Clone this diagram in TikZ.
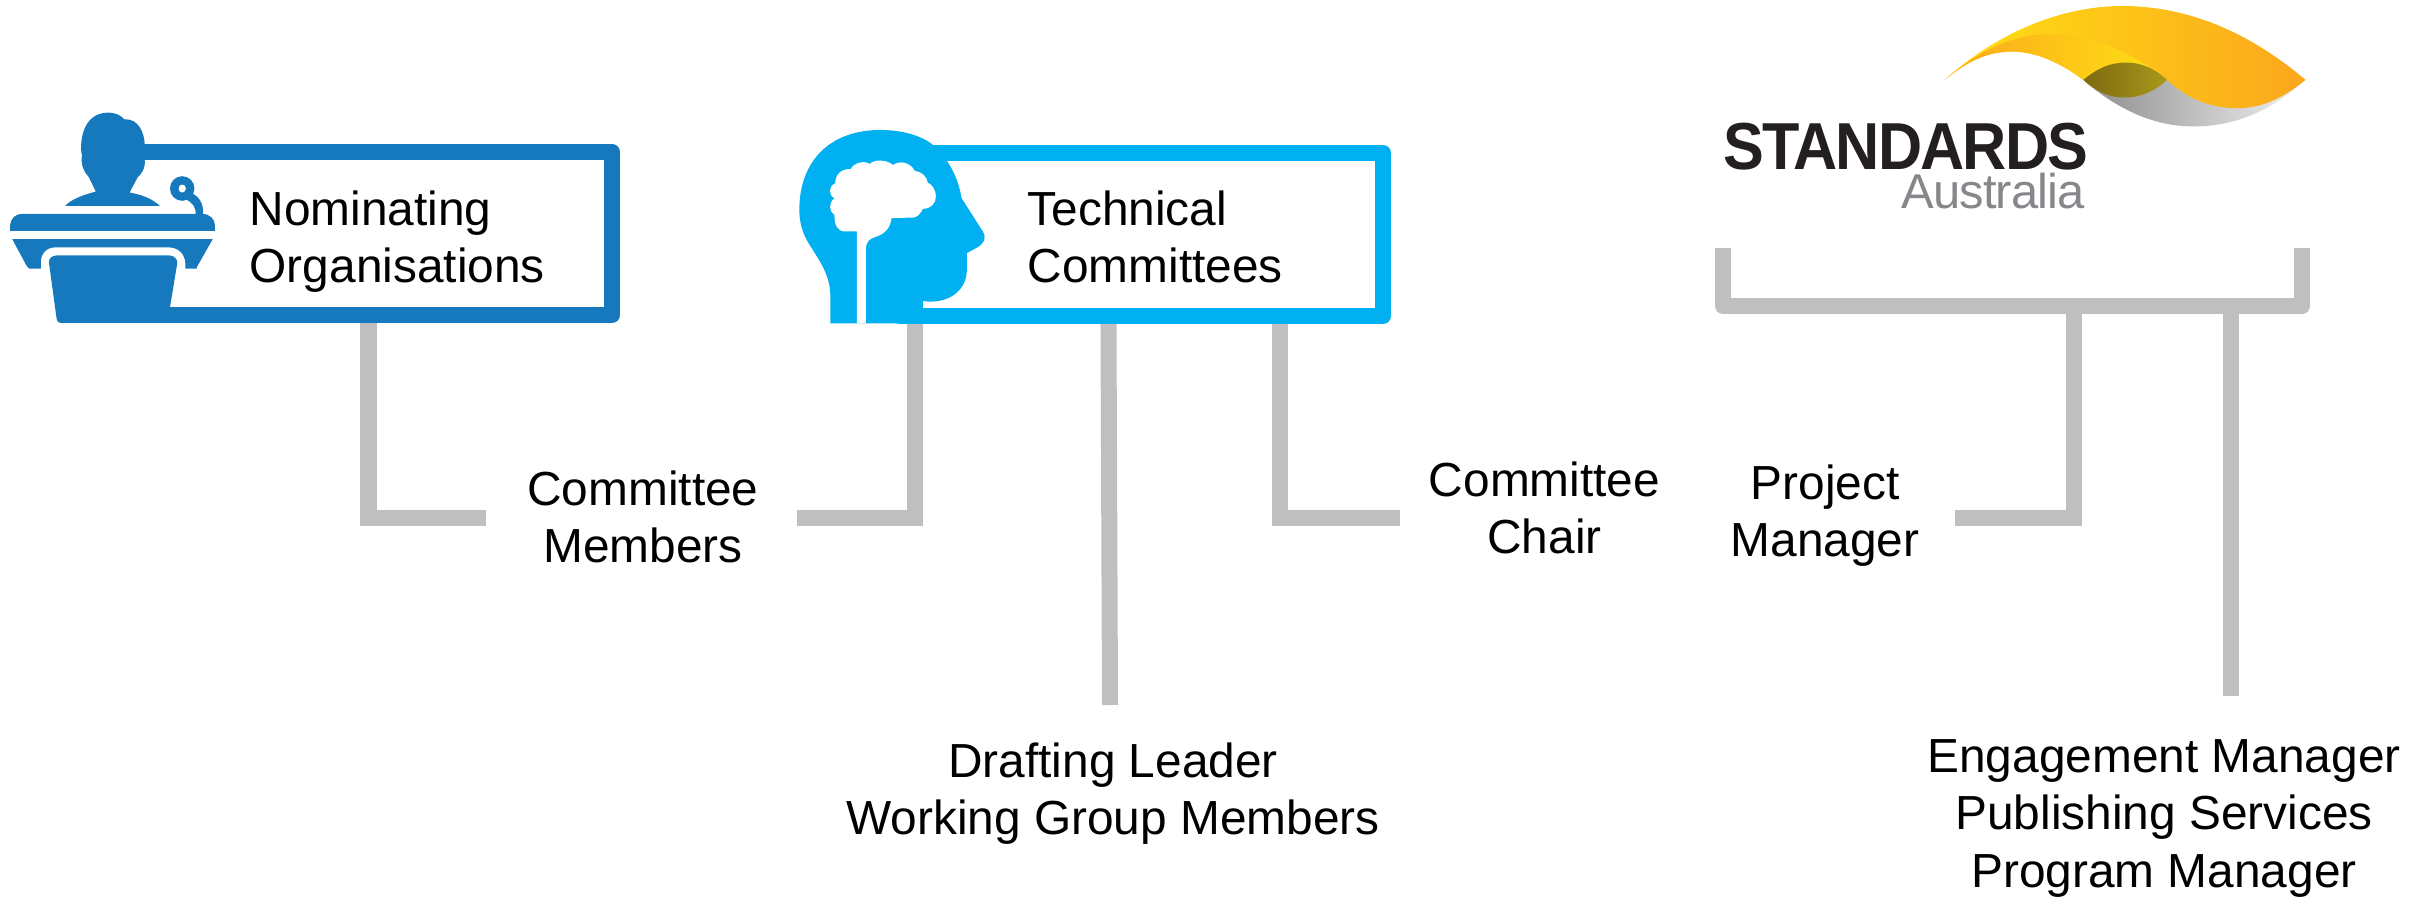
\documentclass[tikz,border=0pt]{standalone}
\usepackage{fontspec}
\setmainfont{Liberation Sans}
\newfontfamily\logofont[LetterSpace=-3]{Liberation Sans}
\newfontfamily\subfont[LetterSpace=-2]{Liberation Sans}
\definecolor{nomblue}{HTML}{1679BE}
\definecolor{techblue}{HTML}{00B0F0}
\definecolor{linkgray}{HTML}{BFBFBF}
\definecolor{logoyellow}{HTML}{FFE014}
\definecolor{logoorange}{HTML}{FBA71C}
\definecolor{logodark}{HTML}{231F20}
\definecolor{logogray}{HTML}{85878A}
\definecolor{lensleft}{HTML}{7E6A10}
\definecolor{lensright}{HTML}{A8981A}
\tikzset{
  label text/.style={align=center,inner sep=0pt,font=\fontsize{13.6}{16.3}\selectfont,
    execute at begin node=\strut,execute at end node=\strut},
  frame/.style={draw=#1,line width=0.16cm,line join=round,inner sep=0pt,minimum height=1.63cm},
  link/.style={draw=linkgray,line width=0.16cm},
  icon/.style={x=0.00408cm,y=-0.00333cm}
}
\begin{document}
\begin{tikzpicture}[x=0.01cm,y=-0.01cm]
  \useasboundingbox (0,0) rectangle (2430,897);

  % free ends of the connectors
  \coordinate (memleft) at (486,517.5);
  \coordinate (memright) at (796.5,517.5);
  \coordinate (chairend) at (1400,518);
  \coordinate (leadend) at (1110,705);
  \coordinate (pmend) at (1955,518);
  \coordinate (pubend) at (2231,696);
  \coordinate (brackL) at (1723,248);
  \coordinate (brackR) at (2302,248);
  \coordinate (brackP) at (2074,306);
  \coordinate (brackE) at (2231,306);

  % frames and connectors
  \node[frame=nomblue,minimum width=4.87cm] (nomorg) at (368.5,233.5) {};
  \node[frame=techblue,minimum width=4.83cm] (techcom) at (1141.5,234.5) {};
  \fill[white] (110,160) rectangle (140,307);
  \draw[link] (memleft) -| (nomorg.south);
  \draw[link] (memright) -| ([xshift=-2.265cm]techcom.south);
  \draw[link] ([xshift=-0.33cm]techcom.south) -- (leadend);
  \draw[link] (chairend) -| ([xshift=1.385cm]techcom.south);
  \draw[link,line join=round] (brackL) |- (brackR |- brackP) -- (brackR);
  \draw[link] (pmend) -| (brackP);
  \draw[link] (brackE) -- (pubend);

  % lectern
  \begin{scope}[shift={(0,90)},icon]
    \fill[nomblue] (235,305) -- (218,262) .. controls (205,245) and (198,225) .. (201,195)
      .. controls (195,170) and (198,68) .. (265,68) .. controls (285,68) and (298,78) .. (305,88)
      .. controls (340,85) and (355,130) .. (355,165) -- (355,210)
      .. controls (358,235) and (345,255) .. (338,262) -- (318,308)
      .. controls (350,315) and (375,328) .. (392,348) -- (160,348)
      .. controls (175,328) and (205,315) .. (235,305) -- cycle;
    \fill[nomblue] (447,296) ellipse (30 and 37);
    \fill[white] (447,296) ellipse (9 and 12);
    \fill[nomblue] (470,310) .. controls (490,320) and (500,345) .. (498,372) -- (480,372)
      .. controls (480,350) and (472,338) .. (455,328) -- cycle;
    \fill[nomblue] (25,423) -- (25,405) .. controls (27,385) and (38,372) .. (55,372) -- (495,372)
      .. controls (515,372) and (527,388) .. (527,405) -- (527,423) -- cycle;
    \fill[nomblue] (30,448) -- (522,448) -- (484,530) -- (482,537) -- (455,537) -- (455,525)
      .. controls (455,490) and (435,473) .. (415,473) -- (135,473)
      .. controls (112,473) and (100,495) .. (100,515) -- (100,537) -- (72,537) -- (66,530) -- cycle;
    \fill[nomblue] (120,518) .. controls (120,505) and (128,497) .. (140,497) -- (415,497)
      .. controls (428,497) and (435,508) .. (435,520) -- (417,653) -- (417,700) -- (150,700)
      .. controls (143,700) and (140,696) .. (139,688) -- cycle;
  \end{scope}

  % head
  \begin{scope}[shift={(770,110)},icon]
    \fill[techblue] (148,641) -- (148,560) .. controls (148,500) and (125,460) .. (105,420)
      .. controls (85,385) and (72,350) .. (72,300) .. controls (72,150) and (150,60) .. (270,60)
      .. controls (330,60) and (375,80) .. (400,105) .. controls (440,150) and (462,205) .. (470,265)
      -- (522,365) .. controls (532,385) and (525,400) .. (510,412) -- (483,430) -- (483,480)
      .. controls (483,540) and (440,585) .. (375,574) -- (375,641) -- cycle;
    \fill[white] (213,365) -- (213,641) -- (235,641) -- (235,420) .. controls (235,395) and (245,385) .. (262,380)
      .. controls (285,370) and (296,350) .. (298,325) -- (352,323) .. controls (362,322) and (370,310) .. (375,297)
      .. controls (395,297) and (407,280) .. (407,260) .. controls (407,240) and (398,225) .. (387,218)
      .. controls (385,200) and (372,185) .. (355,183) .. controls (345,158) and (318,150) .. (302,165)
      .. controls (285,148) and (255,148) .. (245,162) .. controls (228,150) and (205,160) .. (198,178)
      .. controls (175,175) and (160,195) .. (160,220) .. controls (143,230) and (143,255) .. (158,265)
      .. controls (143,280) and (145,305) .. (158,315) .. controls (158,345) and (165,365) .. (185,365) -- cycle;
  \end{scope}

  % logo
  \begin{scope}[shift={(1690,0)},icon]
    \shade[left color=black!45,right color=black!5] (965,240) .. controls (1040,320) and (1130,380) .. (1235,380)
      .. controls (1340,380) and (1430,330) .. (1510,240) -- cycle;
    \shade[left color=logoyellow,right color=logoorange] (625,240) .. controls (760,90) and (920,18) .. (1060,18)
      .. controls (1230,18) and (1380,105) .. (1510,240) .. controls (1450,300) and (1400,325) .. (1340,325)
      .. controls (1270,325) and (1215,290) .. (1170,240) -- (965,240) .. controls (910,190) and (850,155) .. (790,155)
      .. controls (720,155) and (670,195) .. (625,240) -- cycle;
    \shade[left color=logoorange,right color=logoyellow] (625,240) .. controls (690,170) and (780,100) .. (890,103)
      .. controls (1000,105) and (1090,165) .. (1170,240) -- (965,240) .. controls (910,190) and (850,155) .. (790,155)
      .. controls (720,155) and (670,195) .. (625,240) -- cycle;
    \shade[left color=lensleft,right color=lensright] (965,240) .. controls (1000,205) and (1030,188) .. (1070,188)
      .. controls (1110,188) and (1145,210) .. (1170,240) .. controls (1140,275) and (1105,293) .. (1065,293)
      .. controls (1025,293) and (990,270) .. (965,240) -- cycle;
  \end{scope}
  \node[anchor=base east,inner sep=0pt,xscale=0.92,text=logodark,font=\logofont\bfseries\fontsize{18.9}{20}\selectfont] (stdname) at (2089,169) {STANDARDS};
  \node[anchor=base east,inner sep=0pt,text=logogray,font=\subfont\fontsize{13.9}{15}\selectfont] (ausname) at (2085,208) {Australia};

  % labels
  \node[label text,align=left,anchor=west] (nomtxt) at (249,245) {Nominating\\Organisations};
  \node[label text,align=left,anchor=west] (techtxt) at (1027,245.5) {Technical\\Committees};
  \node[label text] (members) at (643,525.5) {Committee\\Members};
  \node[label text] (chair) at (1544.5,516.5) {Committee\\Chair};
  \node[label text] (pm) at (1825,519.5) {Project\\Manager};
  \node[label text] (drafting) at (1113,797.5) {Drafting Leader\\Working Group Members};
  \node[label text] (engage) at (2164,822) {Engagement Manager\\Publishing Services\\Program Manager};
\end{tikzpicture}
\end{document}
